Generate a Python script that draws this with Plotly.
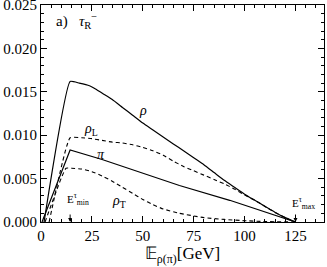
import plotly.graph_objects as go

# ---- data ----
x_rho = [1.5, 14.3, 18.8, 23.8, 27, 30.3, 35, 40, 45, 50, 55, 60, 65, 70, 75, 80, 85, 90, 95, 100, 105, 110, 115, 120, 125]
y_rho = [0.0, 0.0162, 0.0160, 0.0157, 0.0153, 0.0148, 0.0141, 0.0132, 0.0123, 0.0114, 0.0106, 0.0098, 0.0090,
         0.0082, 0.0074, 0.0066, 0.0057, 0.0048, 0.0040, 0.0032, 0.0025, 0.0018, 0.0011, 0.0005, 0.0]

x_rhoL = [4.0, 14.3, 20, 25, 30, 35, 40, 45, 50, 55, 60, 65, 70, 75, 80, 85, 90, 95, 100, 105, 110, 115, 120, 125]
y_rhoL = [0.0, 0.0097, 0.0097, 0.0096, 0.0094, 0.0092, 0.0091, 0.0089, 0.0086, 0.0082, 0.0077, 0.0070,
          0.0064, 0.0059, 0.0054, 0.0049, 0.0044, 0.0038, 0.0031, 0.0025, 0.0018, 0.0011, 0.0005, 0.0]

x_pi = [0.5, 14.3, 30, 48.4, 68, 92.7, 125]
y_pi = [0.0, 0.0083, 0.0072, 0.00577, 0.0042, 0.0025, 0.0]

x_rhoT = [2.0, 12.3, 15, 20, 25, 30, 35, 40, 45, 50, 55, 60, 68, 75, 80, 90, 100, 110, 125]
y_rhoT = [0.0, 0.0062, 0.0062, 0.0061, 0.0058, 0.0053, 0.0047, 0.0040, 0.0033, 0.0026, 0.0020, 0.0015,
          0.0010, 0.0007, 0.0005, 0.0003, 0.00015, 0.00005, 0.0]

x_ticks = [0, 25, 50, 75, 100, 125]
y_ticks = [0.0, 0.005, 0.010, 0.015, 0.020, 0.025]
y_ticklabels = ["0.000", "0.005", "0.010", "0.015", "0.020", "0.025"]

FONT = "Liberation Serif"
fig = go.Figure()
solid = dict(color="black", width=1.2)
dashed = dict(color="black", width=1.1, dash="4px,3px")
fig.add_trace(go.Scatter(x=x_rho, y=y_rho, mode="lines", line=dict(**solid, shape="spline", smoothing=0.4)))
fig.add_trace(go.Scatter(x=x_rhoL, y=y_rhoL, mode="lines", line=dict(**dashed, shape="spline", smoothing=0.4)))
fig.add_trace(go.Scatter(x=x_pi, y=y_pi, mode="lines", line=solid))
fig.add_trace(go.Scatter(x=x_rhoT, y=y_rhoT, mode="lines", line=dict(**dashed, shape="spline", smoothing=0.4)))

axcommon = dict(showgrid=False, zeroline=False, showline=True, linecolor="black", linewidth=1,
                ticks="inside", ticklen=6, tickcolor="black", mirror="allticks", automargin=False,
                ticklabeloverflow="allow",
                tickfont=dict(family=FONT, size=15, color="black"))
fig.update_xaxes(range=[0, 139], tickvals=x_ticks, minor=dict(dtick=5, ticks="inside", ticklen=3, tickcolor="black"),
                 title=dict(text="𝔼<sub>ρ(π)</sub>[GeV]", font=dict(family=FONT, size=17, color="black"), standoff=2),
                 **axcommon)
fig.update_yaxes(range=[0, 0.025], tickvals=y_ticks, ticktext=y_ticklabels,
                 minor=dict(dtick=0.001, ticks="inside", ticklen=3, tickcolor="black"), **axcommon)

ann = [
    dict(x=6.5, y=0.0232, text="a)&nbsp;&nbsp;&nbsp;<i>τ</i><sub>R</sub><sup>−</sup>", font_size=15),
    dict(x=50, y=0.0128, text="<i>ρ</i>", font_size=14),
    dict(x=24.6, y=0.0107, text="<i>ρ</i><sub>L</sub>", font_size=14),
    dict(x=29.5, y=0.0078, text="<i>π</i>", font_size=14),
    dict(x=38.5, y=0.0024, text="<i>ρ</i><sub>T</sub>", font_size=14),
    dict(x=18, y=0.0026, text="E<sup>τ</sup><sub>min</sub>", font_size=11),
    dict(x=129, y=0.0022, text="E<sup>τ</sup><sub>max</sub>", font_size=11),
]
for a in ann:
    fig.add_annotation(x=a["x"], y=a["y"], text=a["text"], showarrow=False, xanchor="center" if a["x"] > 7 else "left",
                       font=dict(family=FONT, size=a["font_size"], color="black"))
for xa in [14.3, 125]:
    fig.add_annotation(x=xa, y=0.0, ax=0, ay=-9, text="", showarrow=True, arrowhead=2, arrowsize=0.8,
                       arrowwidth=1, arrowcolor="black")

fig.update_layout(width=327, height=267, margin=dict(l=41, r=3, t=5, b=45),
                  plot_bgcolor="white", paper_bgcolor="white", showlegend=False)
fig.write_html("out.html", config={"displayModeBar": False},
               post_script="document.body.style.margin='0';document.body.style.overflow='hidden';")
